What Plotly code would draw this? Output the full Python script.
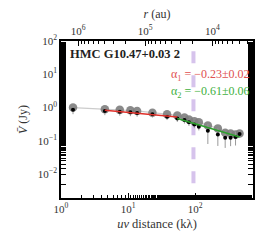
import plotly.graph_objects as go

# ---- data ----
uv = [1.51, 4.5, 7.5, 10.8, 13.6, 23, 38, 54, 69, 80.5, 96.7, 113, 154, 217, 279, 336, 398, 457]
v_grey = [1.0, 0.89, 0.85, 0.83, 0.79, 0.70, 0.63, 0.58, 0.50, 0.44, 0.39, 0.36, 0.29, 0.236, 0.175, 0.166, 0.155, 0.166]
v_black = [0.85, 0.79, 0.75, 0.72, 0.69, 0.63, 0.53, 0.47, 0.42, 0.36, 0.31, 0.265, 0.20, 0.155, 0.123, 0.123, 0.13, 0.16]
err_black = [0.22, 0.2, 0.18, 0.17, 0.16, 0.13, 0.11, 0.1, 0.09, 0.08, 0.07, 0.06, 0.12, 0.085, 0.062, 0.054, 0.058, 0.03]

fit1_x = [4.5, 54]
fit1_y = [0.83, 0.52]
fit2_x = [54, 457]
fit2_y = [0.47, 0.13]

vline_uv = 94
r_scale = 1.8e6  # uv(kλ) = r_scale / r(au)

x_ticks = [1, 10, 100]
x_ticktext = ["10<sup>0</sup>", "10<sup>1</sup>", "10<sup>2</sup>"]
y_ticks = [0.01, 0.1, 1, 10, 100]
y_ticktext = ["10<sup>−2</sup>", "10<sup>−1</sup>", "10<sup>0</sup>", "10<sup>1</sup>", "10<sup>2</sup>"]
r_ticks = [1e6, 1e5, 1e4]
r_ticktext = ["10<sup>6</sup>", "10<sup>5</sup>", "10<sup>4</sup>"]

title_text = "HMC G10.47+0.03 2"
alpha1_text = "α<sub>1</sub> = −0.23±0.02"
alpha2_text = "α<sub>2</sub> = −0.61±0.06"

x_range = [0, 2.86]
y_range = [-2.72, 2]

FONT = "Liberation Serif"

fig = go.Figure()

fig.add_trace(go.Scatter(x=uv, y=v_grey, mode="lines",
                         line=dict(color="#cccccc", width=1.2), hoverinfo="skip", showlegend=False))
fig.add_trace(go.Scatter(x=[vline_uv, vline_uv], y=[1e-3, 1e3], mode="lines",
                         line=dict(color="rgba(200,175,230,0.75)", width=4, dash="dash"),
                         showlegend=False))
fig.add_trace(go.Scatter(x=uv, y=v_grey, mode="markers",
                         marker=dict(color="rgba(125,125,125,0.9)", size=8.5), showlegend=False))
fig.add_trace(go.Scatter(x=uv, y=v_black, mode="markers",
                         marker=dict(color="black", size=4),
                         error_y=dict(type="data", array=err_black, color="#999999", thickness=1, width=0),
                         showlegend=False))
fig.add_trace(go.Scatter(x=fit1_x, y=fit1_y, mode="lines",
                         line=dict(color="#e0302a", width=1.5), showlegend=False))
fig.add_trace(go.Scatter(x=fit2_x, y=fit2_y, mode="lines",
                         line=dict(color="#2ca02c", width=1.5), showlegend=False))
fig.add_trace(go.Scatter(x=[10], y=[1], xaxis="x2", mode="markers",
                         marker=dict(opacity=0), showlegend=False, hoverinfo="skip"))

r_minor = [k * 10 ** n for n in range(3, 7) for k in range(2, 10)]
uv_minor_top = [r_scale / r for r in r_minor if 1 <= r_scale / r <= 10 ** x_range[1]]

axis_common = dict(showgrid=False, zeroline=False, linecolor="black", linewidth=1.5,
                   ticks="inside", ticklen=5, tickwidth=1, tickcolor="black", automargin=False,
                   tickfont=dict(family=FONT, size=11, color="#333"))

fig.update_layout(
    width=265, height=241,
    margin=dict(l=61, r=12, t=41, b=43),
    paper_bgcolor="white", plot_bgcolor="white",
    xaxis=dict(type="log", range=x_range, tickvals=x_ticks, ticktext=x_ticktext, mirror=True,
               minor=dict(ticks="inside", ticklen=3, tickcolor="black", showgrid=False),
               title=dict(text="<i>uv</i> distance (kλ)", font=dict(family=FONT, size=12.5, color="#333"), standoff=5),
               **axis_common),
    xaxis2=dict(type="log", range=x_range, overlaying="x", side="top", anchor="y",
                tickvals=[r_scale / r for r in r_ticks], ticktext=r_ticktext,
                minor=dict(tickvals=uv_minor_top, ticks="inside", ticklen=3, tickcolor="black", showgrid=False),
                title=dict(text="<i>r</i> (au)", font=dict(family=FONT, size=12, color="#333"), standoff=2),
                **axis_common),
    yaxis=dict(type="log", range=y_range, tickvals=y_ticks, ticktext=y_ticktext, mirror="allticks",
               minor=dict(ticks="inside", ticklen=3, tickcolor="black", showgrid=False),
               title=dict(text="<i>V̄</i> (Jy)", font=dict(family=FONT, size=12, color="#333"), standoff=8),
               **axis_common),
    annotations=[
        dict(text="<b>" + title_text + "</b>", xref="paper", yref="paper", x=0.035, y=0.915,
             xanchor="left", yanchor="middle", showarrow=False,
             font=dict(family=FONT, size=12.5, color="#222")),
        dict(text=alpha1_text, xref="paper", yref="paper", x=0.995, y=0.785,
             xanchor="right", yanchor="middle", showarrow=False,
             font=dict(family=FONT, size=12, color="#e05050")),
        dict(text=alpha2_text, xref="paper", yref="paper", x=0.995, y=0.675,
             xanchor="right", yanchor="middle", showarrow=False,
             font=dict(family=FONT, size=12, color="#40b040")),
    ],
)

fig.write_html("out.html", post_script="document.body.style.margin='0';",
               config={"displayModeBar": False})
